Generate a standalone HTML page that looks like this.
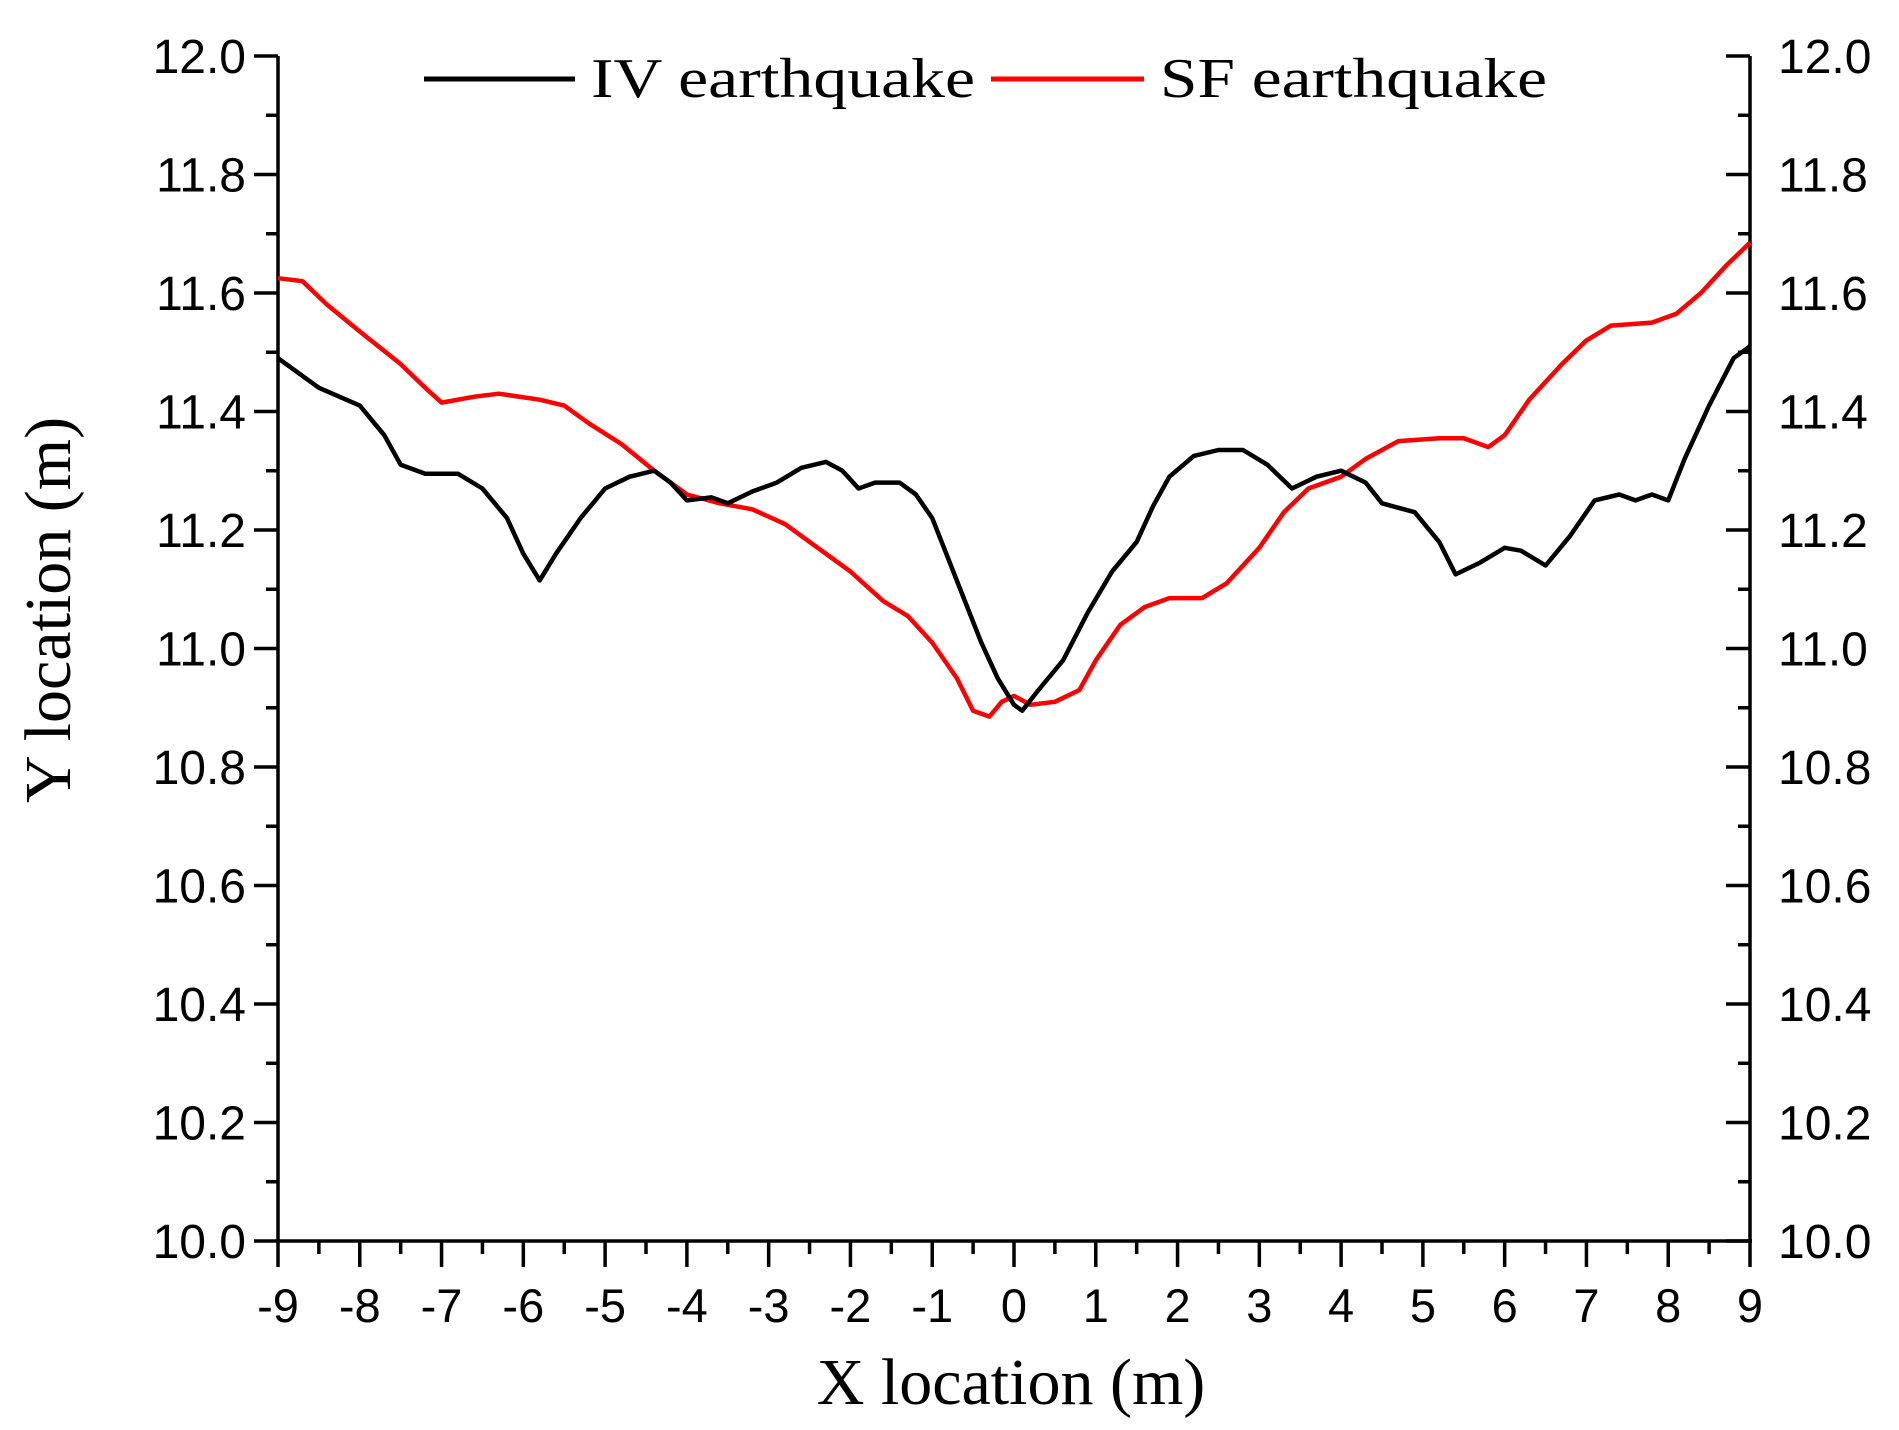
<!DOCTYPE html>
<html><head><meta charset="utf-8"><style>
html,body{margin:0;padding:0;background:#fff;}
svg{display:block;}
</style></head><body>
<svg id="chart" width="1899" height="1430" viewBox="0 0 1899 1430" xmlns="http://www.w3.org/2000/svg">
<rect width="1899" height="1430" fill="#fff"/>
<g id="axes"></g>
<g id="series"></g>
<g id="legend">
 <line x1="424" y1="79" x2="575" y2="79" stroke="#000" stroke-width="5"/>
 <text x="591" y="97" font-family="Liberation Serif, serif" font-size="56" textLength="384" lengthAdjust="spacingAndGlyphs">IV earthquake</text>
 <line x1="991" y1="79" x2="1144" y2="79" stroke="#f00" stroke-width="5"/>
 <text x="1160" y="97" font-family="Liberation Serif, serif" font-size="56" textLength="387" lengthAdjust="spacingAndGlyphs">SF earthquake</text>
</g>
<text x="1011" y="1404" text-anchor="middle" font-family="Liberation Serif, serif" font-size="66">X location (m)</text>
<text transform="translate(70,610) rotate(-90)" text-anchor="middle" font-family="Liberation Serif, serif" font-size="66">Y location (m)</text>
</svg>
<script>
const ivX=[-9,-8.5,-8,-7.7,-7.5,-7.2,-6.8,-6.5,-6.2,-6.0,-5.8,-5.6,-5.3,-5.0,-4.7,-4.4,-4.2,-4.0,-3.7,-3.5,-3.2,-2.9,-2.6,-2.3,-2.1,-1.9,-1.7,-1.4,-1.2,-1.0,-0.8,-0.6,-0.4,-0.2,0.0,0.1,0.3,0.6,0.9,1.2,1.5,1.7,1.9,2.2,2.5,2.8,3.1,3.4,3.7,4.0,4.3,4.5,4.9,5.2,5.4,5.7,6.0,6.2,6.5,6.8,7.1,7.4,7.6,7.8,8.0,8.2,8.5,8.8,9.0];
const ivY=[11.49,11.44,11.41,11.36,11.31,11.295,11.295,11.27,11.22,11.16,11.115,11.16,11.22,11.27,11.29,11.30,11.28,11.25,11.255,11.245,11.265,11.28,11.305,11.315,11.30,11.27,11.28,11.28,11.26,11.22,11.15,11.08,11.01,10.95,10.905,10.895,10.93,10.98,11.06,11.13,11.18,11.24,11.29,11.325,11.335,11.335,11.31,11.27,11.29,11.30,11.28,11.245,11.23,11.18,11.125,11.145,11.17,11.165,11.14,11.19,11.25,11.26,11.25,11.26,11.25,11.32,11.41,11.49,11.51];
const sfX=[-9,-8.7,-8.4,-8,-7.5,-7.2,-7,-6.6,-6.3,-5.8,-5.5,-5.2,-4.8,-4.4,-4.0,-3.6,-3.2,-2.8,-2.4,-2.0,-1.6,-1.3,-1.0,-0.7,-0.5,-0.3,-0.15,0.0,0.2,0.5,0.8,1.0,1.3,1.6,1.9,2.3,2.6,3.0,3.3,3.6,4.0,4.3,4.7,5.2,5.5,5.8,6.0,6.3,6.7,7.0,7.3,7.8,8.1,8.4,8.7,9.0];
const sfY=[11.625,11.62,11.58,11.535,11.48,11.44,11.415,11.425,11.43,11.42,11.41,11.38,11.345,11.30,11.26,11.245,11.235,11.21,11.17,11.13,11.08,11.055,11.01,10.95,10.895,10.885,10.91,10.92,10.905,10.91,10.93,10.98,11.04,11.07,11.085,11.085,11.11,11.17,11.23,11.27,11.29,11.32,11.35,11.355,11.355,11.34,11.36,11.42,11.48,11.52,11.545,11.55,11.565,11.6,11.645,11.685];
const xTicks=[-9,-8,-7,-6,-5,-4,-3,-2,-1,0,1,2,3,4,5,6,7,8,9];
const yTicks=["10.0","10.2","10.4","10.6","10.8","11.0","11.2","11.4","11.6","11.8","12.0"];
const L=278,R=1750,T=56,B=1241;
const sx=v=>L+(v+9)/18*(R-L);
const sy=v=>B-(v-10)/2*(B-T);
const NS="http://www.w3.org/2000/svg";
function mk(tag,attrs,parent){const e=document.createElementNS(NS,tag);for(const k in attrs)e.setAttribute(k,attrs[k]);parent.appendChild(e);return e;}
const ax=document.getElementById('axes');
let e;
e=mk('line',{x1:L,y1:T,x2:L,y2:B+2,stroke:'#000','stroke-width':3.5},ax);


e=mk('line',{x1:R,y1:T,x2:R,y2:B+2,stroke:'#000','stroke-width':3.5},ax);


e=mk('line',{x1:L-2,y1:B,x2:R+2,y2:B,stroke:'#000','stroke-width':3.5},ax);


xTicks.forEach((v,i)=>{
 const x=sx(v);
 mk('line',{x1:x,y1:B,x2:x,y2:B+26,stroke:'#000','stroke-width':3.5},ax);
 if(i<xTicks.length-1){const xm=sx(v+0.5);mk('line',{x1:xm,y1:B,x2:xm,y2:B+13,stroke:'#000','stroke-width':3.5},ax);}
 const t=mk('text',{x:x,y:1322,'text-anchor':'middle','font-family':'Liberation Sans, sans-serif','font-size':47},ax);
 t.textContent=String(v);
 
 
});
yTicks.forEach((lab,i)=>{
 const v=parseFloat(lab);const y=sy(v);
 mk('line',{x1:L-24,y1:y,x2:L,y2:y,stroke:'#000','stroke-width':3.5},ax);
 mk('line',{x1:R-24,y1:y,x2:R,y2:y,stroke:'#000','stroke-width':3.5},ax);
 if(i<yTicks.length-1){const ym=sy(v+0.1);
  mk('line',{x1:L-12,y1:ym,x2:L,y2:ym,stroke:'#000','stroke-width':3.5},ax);
  mk('line',{x1:R-12,y1:ym,x2:R,y2:ym,stroke:'#000','stroke-width':3.5},ax);}
 let t=mk('text',{x:246,y:y+17,'text-anchor':'end','font-family':'Liberation Sans, sans-serif','font-size':48},ax);
 t.textContent=lab;
 
 
 t=mk('text',{x:1778,y:y+17,'text-anchor':'start','font-family':'Liberation Sans, sans-serif','font-size':48},ax);
 t.textContent=lab;
 
 
});
const sg=document.getElementById('series');
function path(xs,ys){return xs.map((x,i)=>(i?'L':'M')+sx(x).toFixed(1)+' '+sy(ys[i]).toFixed(1)).join(' ');}
e=mk('path',{d:path(sfX,sfY),fill:'none',stroke:'#f00','stroke-width':4.5,'stroke-linejoin':'round'},sg);


e=mk('path',{d:path(ivX,ivY),fill:'none',stroke:'#000','stroke-width':4.5,'stroke-linejoin':'round'},sg);


</script>
</body></html>
